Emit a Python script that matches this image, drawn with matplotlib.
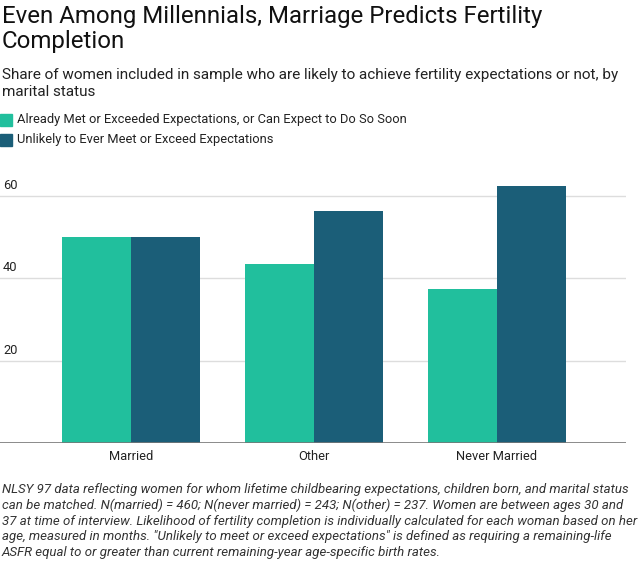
import matplotlib
matplotlib.use("Agg")
import matplotlib.pyplot as plt
import matplotlib.transforms as mtransforms
import numpy as np
from matplotlib.patches import Rectangle

plt.rcParams['font.family'] = ['Roboto', 'DejaVu Sans']

# data
categories = ["Married", "Other", "Never Married"]
met_values = [50.0, 43.5, 37.5]
unlikely_values = [50.0, 56.5, 62.5]
series_names = ["Already Met or Exceeded Expectations, or Can Expect to Do So Soon",
                "Unlikely to Ever Meet or Exceed Expectations"]
yticks = [20, 40, 60]

title = "Even Among Millennials, Marriage Predicts Fertility\nCompletion"
subtitle = ("Share of women included in sample who are likely to achieve fertility expectations or not, by\n"
            "marital status")
footnote = ("NLSY 97 data reflecting women for whom lifetime childbearing expectations, children born, and marital status\n"
            "can be matched. N(married) = 460; N(never married) = 243; N(other) = 237. Women are between ages 30 and\n"
            "37 at time of interview. Likelihood of fertility completion is individually calculated for each woman based on her\n"
            "age, measured in months. \"Unlikely to meet or exceed expectations\" is defined as requiring a remaining-life\n"
            "ASFR equal to or greater than current remaining-year age-specific birth rates.")

teal = "#21BF9D"
navy = "#1B5E78"
W, H = 640, 564

fig = plt.figure(figsize=(6.4, 5.64), dpi=100)
ax = fig.add_axes([0.0, 1 - 443 / H, 626 / W, (443 - 175.6) / H])

x = np.arange(len(categories))
bw = 0.375
ax.bar(x - bw / 2, met_values, bw, color=teal, zorder=3)
ax.bar(x + bw / 2, unlikely_values, bw, color=navy, zorder=3)

ax.set_xlim(-0.716, 2.705)
ax.set_ylim(0, 65)
for s in ax.spines.values():
    s.set_visible(False)
ax.axhline(0, color="#777777", lw=1.2, zorder=4)
for t in yticks:
    ax.axhline(t, color="#dddddd", lw=1, zorder=1)
ax.set_yticks([])
ax.set_xticks(x)
ax.set_xticklabels(categories, fontsize=9.3, color="#222222")
ax.tick_params(axis="x", length=0, pad=5)

trans = mtransforms.blended_transform_factory(fig.transFigure, ax.transData)
for t in yticks:
    ax.text(3 / W, t + 1.0, str(t), transform=trans, fontsize=9.3, color="#222222",
            ha="left", va="bottom")

fig.text(2 / W, 1 - 5 / H, title, fontsize=17.3, color="#111111", va="top", ha="left",
         linespacing=1.12)
fig.text(2 / W, 1 - 68 / H, subtitle, fontsize=11, color="#222222", va="top", ha="left",
         linespacing=1.3)

leg_y = [120, 140]
for name, col, yy in zip(series_names, [teal, navy], leg_y):
    fig.patches.append(Rectangle((0, 1 - (yy + 6) / H), 12 / W, 12 / H,
                                 transform=fig.transFigure, color=col))
    fig.text(17 / W, 1 - yy / H, name, fontsize=9.3, color="#222222", va="center", ha="left")

fig.text(2 / W, 1 - 483 / H, footnote, fontsize=9.5, style="italic", color="#333333",
         va="top", ha="left", linespacing=1.25)

fig.savefig("out.png", dpi=100, facecolor="white")
